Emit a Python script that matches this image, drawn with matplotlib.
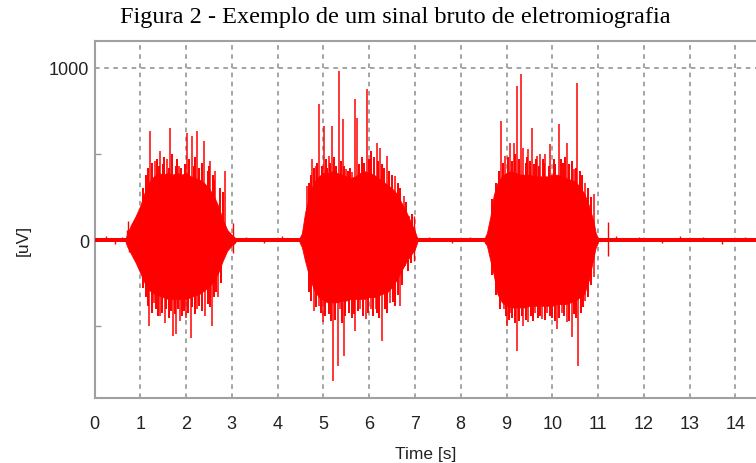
import matplotlib
matplotlib.use("Agg")
import matplotlib.pyplot as plt
import numpy as np

# ---------------- data ----------------
# dense EMG core of each burst: time [s], upper and lower envelope [uV]
burst1_t  = [0.68, 0.72, 0.80, 0.90, 1.0, 1.1, 1.2, 1.3, 1.4, 1.5, 1.6, 1.7, 1.8, 1.9,
             2.0, 2.1, 2.2, 2.3, 2.4, 2.5, 2.6, 2.7, 2.8, 2.9, 3.0, 3.08]
burst1_hi = [12, 40, 90, 140, 200, 280, 340, 370, 390, 380, 390, 380, 390, 380,
             390, 370, 360, 350, 330, 300, 260, 200, 120, 60, 30, 12]
burst1_lo = [-12, -40, -80, -130, -190, -250, -290, -310, -320, -330, -340, -340, -340, -340,
             -340, -330, -320, -310, -290, -270, -240, -190, -120, -60, -30, -12]

burst2_t  = [4.48, 4.53, 4.6, 4.7, 4.8, 4.9, 5.0, 5.1, 5.2, 5.3, 5.4, 5.5, 5.6, 5.7,
             5.8, 5.9, 6.0, 6.1, 6.2, 6.3, 6.4, 6.5, 6.6, 6.7, 6.8, 6.9, 7.0, 7.05]
burst2_hi = [12, 40, 160, 270, 340, 370, 390, 390, 400, 390, 380, 370, 360, 370,
             390, 400, 390, 380, 360, 340, 320, 300, 270, 220, 170, 110, 50, 12]
burst2_lo = [-12, -40, -120, -220, -290, -330, -350, -360, -360, -360, -350, -350, -340, -340,
             -340, -340, -330, -330, -320, -310, -300, -270, -230, -180, -130, -90, -50, -12]

burst3_t  = [8.52, 8.57, 8.65, 8.72, 8.8, 8.9, 9.0, 9.1, 9.2, 9.3, 9.4, 9.5, 9.6, 9.7,
             9.8, 9.9, 10.0, 10.1, 10.2, 10.3, 10.4, 10.5, 10.6, 10.7, 10.8, 10.9, 10.95, 11.0]
burst3_hi = [12, 40, 140, 260, 330, 370, 390, 400, 390, 380, 380, 380, 370, 370,
             370, 370, 380, 380, 370, 360, 350, 340, 310, 270, 200, 110, 40, 12]
burst3_lo = [-12, -30, -120, -200, -310, -360, -380, -390, -390, -390, -390, -380, -380, -380,
             -380, -380, -380, -370, -370, -370, -360, -350, -330, -310, -230, -100, -40, -12]

# resting baseline band (uV)
baseline_t  = [0.0, 14.5]
baseline_hi = [12, 12]
baseline_lo = [-12, -12]

# tall spikes sticking out of the bursts: time [s], peak [uV]
burst1_spike_t  = [1.22, 1.33, 1.44, 1.59, 1.66, 1.84, 2.02, 2.13, 2.24, 2.39, 2.53, 2.64, 2.86,
                   1.20, 1.30, 1.44, 1.54, 1.71, 1.79, 1.87, 2.00, 2.10, 2.24, 2.42, 2.57, 2.70]
burst1_spike_uv = [634, 460, 518, 470, 653, 431, 624, 605, 634, 576, 460, 402, 402,
                   -499, -362, -439, -478, -555, -545, -468, -450, -565, -400, -439, -497, -330]

burst2_spike_t  = [4.64, 4.75, 4.83, 4.91, 5.01, 5.12, 5.19, 5.34, 5.43, 5.50, 5.63, 5.68, 5.73,
                   5.95, 6.17, 6.24, 6.39, 6.57, 6.75, 6.86,
                   4.64, 4.79, 4.90, 4.99, 5.08, 5.20, 5.32, 5.37, 5.44, 5.70, 5.80, 5.92,
                   6.03, 6.14, 6.28, 6.46, 6.68, 6.79]
burst2_spike_uv = [315, 470, 431, 788, 663, 489, 663, 982, 701, 412, 393, 817, 711,
                   875, 566, 537, 489, 373, 257, 141,
                   -130, -409, -381, -477, -352, -815, -729, -400, -671, -526, -400, -458,
                   -400, -400, -584, -362, -381, -148]

burst3_spike_t  = [8.89, 8.97, 9.08, 9.16, 9.23, 9.32, 9.37, 9.48, 9.56, 9.67, 9.74, 9.85, 9.96,
                   10.14, 10.32, 10.47, 10.54, 10.72, 10.92,
                   8.94, 9.01, 9.08, 9.23, 9.37, 9.48, 9.63, 9.77, 9.88, 10.10, 10.21, 10.32,
                   10.43, 10.57, 10.72, 10.92]
burst3_spike_uv = [692, 489, 566, 566, 894, 962, 537, 528, 653, 489, 499, 499, 557,
                   672, 566, 412, 914, 334, 267,
                   -400, -497, -420, -642, -497, -477, -420, -458, -420, -516, -420, -477,
                   -564, -729, -352, -216]

# medium spikes that make the ragged edge of each burst: time [s], peak [uV]
burst1_edge_t  = [1.05, 1.12, 1.17, 1.26, 1.36, 1.40, 1.49, 1.52, 1.62, 1.70, 1.77, 1.81, 1.90,
                  1.97, 2.06, 2.17, 2.20, 2.28, 2.34, 2.47, 2.50, 2.59, 2.62, 2.75, 2.80,
                  1.05, 1.12, 1.16, 1.25, 1.35, 1.39, 1.48, 1.57, 1.62, 1.67, 1.75, 1.83,
                  1.92, 1.96, 2.05, 2.14, 2.19, 2.29, 2.34, 2.47, 2.52, 2.62, 2.66, 2.76]
burst1_edge_uv = [300, 380, 420, 450, 470, 430, 440, 480, 420, 500, 430, 470, 420,
                  440, 470, 430, 480, 420, 450, 400, 430, 380, 350, 300, 280,
                  -280, -330, -380, -420, -400, -440, -420, -400, -450, -410, -430, -400,
                  -440, -410, -420, -390, -430, -380, -410, -370, -390, -330, -300, -250]

burst2_edge_t  = [4.68, 4.72, 4.79, 4.86, 4.96, 5.05, 5.08, 5.15, 5.24, 5.28, 5.38, 5.46, 5.54,
                  5.58, 5.77, 5.84, 5.88, 6.00, 6.05, 6.10, 6.20, 6.28, 6.33, 6.44, 6.50,
                  6.62, 6.68, 6.80, 6.93,
                  4.68, 4.73, 4.84, 4.94, 5.03, 5.12, 5.16, 5.25, 5.41, 5.48, 5.55, 5.62,
                  5.66, 5.75, 5.86, 5.97, 6.08, 6.18, 6.22, 6.34, 6.40, 6.52, 6.57, 6.63,
                  6.72, 6.85, 6.92]
burst2_edge_uv = [330, 380, 420, 450, 430, 470, 420, 450, 480, 430, 460, 430, 400,
                  420, 440, 480, 450, 470, 520, 480, 460, 440, 420, 400, 380,
                  330, 300, 220, 150,
                  -300, -350, -390, -420, -440, -430, -470, -460, -480, -440, -420, -450,
                  -430, -410, -440, -420, -440, -420, -450, -400, -420, -360, -380, -320,
                  -260, -180, -130]

burst3_edge_t  = [8.68, 8.76, 8.83, 8.93, 9.03, 9.12, 9.19, 9.27, 9.42, 9.45, 9.52, 9.60, 9.64,
                  9.71, 9.79, 9.82, 9.92, 10.03, 10.07, 10.18, 10.24, 10.28, 10.37, 10.42,
                  10.51, 10.60, 10.65, 10.77, 10.84,
                  8.68, 8.77, 8.85, 8.98, 9.05, 9.13, 9.18, 9.28, 9.33, 9.42, 9.53, 9.58,
                  9.69, 9.74, 9.83, 9.94, 10.00, 10.05, 10.15, 10.26, 10.36, 10.48, 10.52,
                  10.62, 10.68, 10.77, 10.85]
burst3_edge_uv = [240, 330, 400, 450, 480, 460, 500, 470, 450, 480, 460, 440, 470,
                  430, 470, 450, 430, 470, 440, 470, 450, 480, 440, 460,
                  420, 400, 380, 300, 250,
                  -200, -320, -400, -440, -460, -450, -480, -470, -440, -460, -440, -470,
                  -450, -440, -460, -440, -450, -470, -450, -440, -470, -430, -450,
                  -420, -390, -330, -260]

# small spikes in the resting signal: time [s], peak [uV]
rest_spike_t  = [0.25, 0.45, 0.60, 0.70, 0.74, 0.76, 3.02, 3.03, 3.30, 3.70, 4.10, 6.97, 6.97,
                 7.30, 7.80, 8.20, 11.22, 11.22, 11.40, 11.90, 12.40, 12.80, 13.30, 13.70, 14.20]
rest_spike_uv = [22, -20, 18, 60, 110, -70, 100, -75, 20, -18, 22, 140, -120,
                 20, -18, 20, 104, -93, 22, 20, -18, 22, 20, -20, 18]

x_ticks = list(range(0, 15))
y_ticks = [0, 1000]
y_minor = [-500, 500]

title = "Figura 2 - Exemplo de um sinal bruto de eletromiografia"
x_label = "Time [s]"
y_label = "[uV]"

# ---------------- figure ----------------
W, H = 756, 464
fig = plt.figure(figsize=(W / 100, H / 100), dpi=100)
ax = fig.add_axes([94.5 / W, (H - 399) / H, (W - 94.5) / W, (399 - 42) / H])

red = "#ff0000"
ax.fill_between(baseline_t, baseline_lo, baseline_hi, color=red, lw=0, zorder=3)
for bt, bh, bl in [(burst1_t, burst1_hi, burst1_lo),
                   (burst2_t, burst2_hi, burst2_lo),
                   (burst3_t, burst3_hi, burst3_lo)]:
    ax.fill_between(bt, bl, bh, color=red, lw=0.6, edgecolor=red, zorder=3)

for st, sv in [(burst1_spike_t, burst1_spike_uv),
               (burst2_spike_t, burst2_spike_uv),
               (burst3_spike_t, burst3_spike_uv)]:
    ax.vlines(st, 0, sv, color=red, lw=1.1, zorder=3)
for st, sv in [(burst1_edge_t, burst1_edge_uv),
               (burst2_edge_t, burst2_edge_uv),
               (burst3_edge_t, burst3_edge_uv)]:
    ax.vlines(st, 0, sv, color=red, lw=1.4, zorder=3)
ax.vlines(rest_spike_t, 0, rest_spike_uv, color=red, lw=1.0, zorder=3)

ax.set_xlim(0, 14.45)
ax.set_ylim(-915, 1155)

grid_kw = dict(color="#8c8c8c", lw=1.1, linestyle=(0, (3, 3)), zorder=1)
for xt in x_ticks[1:]:
    ax.axvline(xt, **grid_kw)
ax.axhline(1000, **grid_kw)

ax.set_xticks(x_ticks)
ax.set_yticks(y_ticks)
ax.set_yticks(y_minor, minor=True)

tick_font = dict(family="Liberation Sans", size=13, color="#222222")
ax.set_xticklabels([str(v) for v in x_ticks], **tick_font)
ax.set_yticklabels([str(v) for v in y_ticks], **tick_font)
ax.tick_params(axis="x", which="major", length=0, pad=12)
ax.tick_params(axis="y", which="major", length=0, pad=4)
ax.tick_params(axis="y", which="minor", length=4, width=1, direction="in", color="#999999")

for side in ["left", "bottom", "top"]:
    ax.spines[side].set_color("#a0a0a0")
    ax.spines[side].set_linewidth(1.5)
ax.spines["right"].set_visible(False)

ax.set_xlabel(x_label, family="Liberation Sans", size=12.5, color="#222222", labelpad=10)
ax.set_ylabel(y_label, family="Liberation Sans", size=12.5, color="#222222")
ax.yaxis.set_label_coords((31 - 94.5) / (W - 94.5), (399 - 240) / (399 - 42))

fig.text(395 / W, 1 - 18 / H, title, family="Liberation Serif", size=17.5,
         ha="center", va="center", color="black")

fig.savefig("out.png", dpi=100)
